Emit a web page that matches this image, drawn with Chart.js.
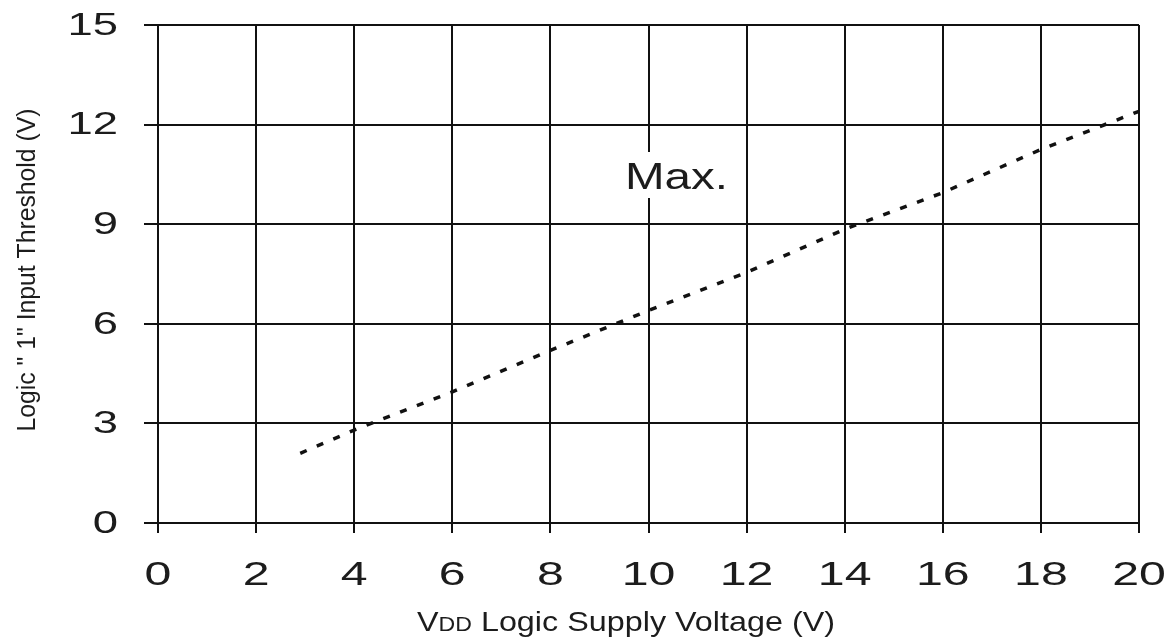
<!DOCTYPE html>
<html>
<head>
<meta charset="utf-8">
<script src="https://cdn.jsdelivr.net/npm/chart.js@4/dist/chart.umd.min.js"></script>
<style>
  html, body { margin: 0; padding: 0; background: #fff; }
  #wrap { width: 1173px; height: 639px; position: relative; }
</style>
</head>
<body>
<div id="wrap"><canvas id="chart" width="1173" height="639"></canvas></div>
<script>
// Supply voltage (V) and maximum logic "1" input threshold (V)
const vddVolts = [2.9, 4, 6, 8, 10, 12, 14, 16, 18, 20];
const thresholdMax = [2.1, 2.8, 3.95, 5.2, 6.4, 7.55, 8.85, 9.95, 11.25, 12.4];

// Axis ranges and tick steps
const xRange = [0, 20];
const xStep = 2;
const yRange = [0, 15];
const yStep = 3;

const curveLabel = 'Max.';
const yTitle = 'Logic " 1" Input Threshold (V)';
const xTitleParts = ['V', 'DD', ' Logic Supply Voltage (V)'];

const INK = '#1c1c1c';
const LINE = '#111';

// Draws a string horizontally stretched by sx, anchored per textAlign
function drawStretched(ctx, text, x, y, sx, align) {
  ctx.save();
  ctx.translate(x, y);
  ctx.scale(sx, 1);
  ctx.textAlign = align;
  ctx.fillText(text, 0, 0);
  ctx.restore();
}

const textPlugin = {
  id: 'textLayer',
  afterDatasetsDraw(chart) {
    const ctx = chart.ctx;
    const xs = chart.scales.x;
    const ys = chart.scales.y;

    // Curve label on a white patch
    ctx.save();
    ctx.fillStyle = '#fff';
    ctx.fillRect(614, 152, 126, 46);
    ctx.fillStyle = INK;
    ctx.font = '36px "Liberation Sans", Arial, sans-serif';
    ctx.textBaseline = 'alphabetic';
    drawStretched(ctx, curveLabel, 625, 189, 1.32, 'left');
    ctx.restore();
  },
  afterDraw(chart) {
    const ctx = chart.ctx;
    const xs = chart.scales.x;
    const ys = chart.scales.y;
    ctx.save();
    ctx.fillStyle = INK;

    // X tick labels
    ctx.font = '34px "Liberation Sans", Arial, sans-serif';
    ctx.textBaseline = 'alphabetic';
    xs.ticks.forEach(t => {
      const px = xs.getPixelForValue(t.value);
      drawStretched(ctx, String(t.label), px, 585, 1.42, 'center');
    });

    // Y tick labels
    ctx.font = '32px "Liberation Sans", Arial, sans-serif';
    ctx.textBaseline = 'middle';
    ys.ticks.forEach(t => {
      const py = ys.getPixelForValue(t.value);
      drawStretched(ctx, String(t.label), 118, py + 1, 1.42, 'right');
    });

    // Y axis title, rotated
    ctx.font = '25px "Liberation Sans", Arial, sans-serif';
    ctx.textBaseline = 'alphabetic';
    const yMid = (chart.chartArea.top + chart.chartArea.bottom) / 2 - 4;
    const yw = ctx.measureText(yTitle).width;
    ctx.save();
    ctx.translate(35, yMid);
    ctx.rotate(-Math.PI / 2);
    ctx.scale(323 / yw, 1);
    ctx.textAlign = 'center';
    ctx.fillText(yTitle, 0, 0);
    ctx.restore();

    // X axis title with subscript-style "DD"
    const big = '28px "Liberation Sans", Arial, sans-serif';
    const small = '20px "Liberation Sans", Arial, sans-serif';
    const fonts = [big, small, big];
    let natural = 0;
    const widths = xTitleParts.map((p, i) => {
      ctx.font = fonts[i];
      const w = ctx.measureText(p).width;
      natural += w;
      return w;
    });
    const targetW = 418;
    const s = targetW / natural;
    ctx.save();
    ctx.translate(417, 631);
    ctx.scale(s, 1);
    ctx.textAlign = 'left';
    let cx = 0;
    xTitleParts.forEach((p, i) => {
      ctx.font = fonts[i];
      ctx.fillText(p, cx, 0);
      cx += widths[i];
    });
    ctx.restore();

    ctx.restore();
  }
};

const points = vddVolts.map((v, i) => ({ x: v, y: thresholdMax[i] }));

new Chart(document.getElementById('chart'), {
  type: 'line',
  data: {
    datasets: [{
      label: curveLabel,
      data: points,
      borderColor: LINE,
      borderWidth: 3.5,
      borderDash: [7, 11],
      borderCapStyle: 'butt',
      pointRadius: 0,
      tension: 0,
      fill: false
    }]
  },
  options: {
    responsive: false,
    animation: false,
    layout: { padding: { left: 0, top: 25, right: 34, bottom: 0 } },
    plugins: {
      legend: { display: false },
      tooltip: { enabled: false },
      title: { display: false }
    },
    scales: {
      x: {
        type: 'linear',
        min: xRange[0],
        max: xRange[1],
        ticks: { stepSize: xStep, display: false },
        grid: { color: LINE, lineWidth: 2, drawTicks: true, tickLength: 10, tickColor: LINE },
        border: { display: true, color: LINE, width: 2 },
        afterFit(scale) { scale.height = 116; }
      },
      y: {
        type: 'linear',
        min: yRange[0],
        max: yRange[1],
        ticks: { stepSize: yStep, display: false },
        grid: { color: LINE, lineWidth: 2, drawTicks: true, tickLength: 14, tickColor: LINE },
        border: { display: true, color: LINE, width: 2 },
        afterFit(scale) { scale.width = 158; }
      }
    }
  },
  plugins: [textPlugin]
});
</script>
</body>
</html>
